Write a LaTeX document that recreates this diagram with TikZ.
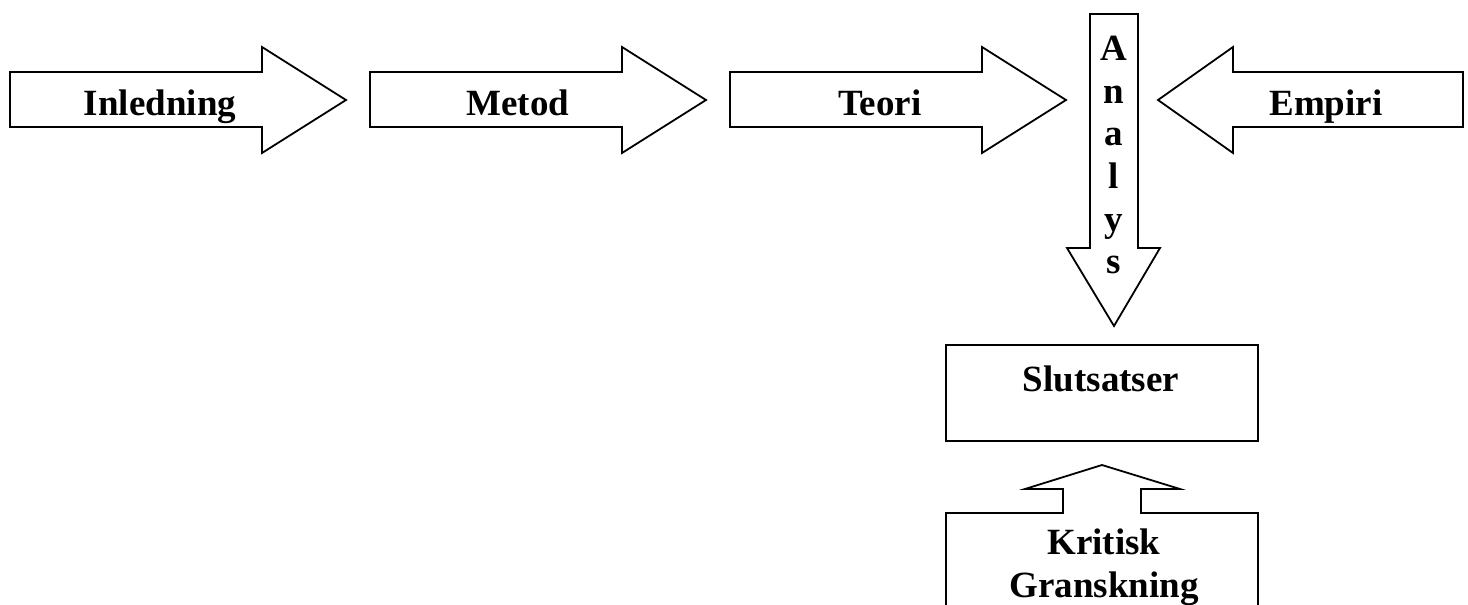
\documentclass[tikz,border=0pt]{standalone}
\usepackage{fontspec}
\setmainfont{Liberation Serif}
\tikzset{
  shapeline/.style={draw=black, line width=1.8pt, fill=white, line join=miter},
  lbl/.style={inner sep=0pt, font=\fontsize{37}{42.6}\selectfont\bfseries, align=center},
}
\begin{document}
\begin{tikzpicture}[x=1pt, y=-1pt]
  \useasboundingbox (0,0) rectangle (1468,605);
  \clip (0,0) rectangle (1468,605);

  % right-pointing block arrows along the top row
  \draw[shapeline] (10,72) -- (262,72) -- (262,47) -- (346,100) -- (262,153) -- (262,127) -- (10,127) -- cycle;
  \draw[shapeline] (370,72) -- (622,72) -- (622,47) -- (706,100) -- (622,153) -- (622,127) -- (370,127) -- cycle;
  \draw[shapeline] (730,72) -- (982,72) -- (982,47) -- (1066,100) -- (982,153) -- (982,127) -- (730,127) -- cycle;

  % left-pointing block arrow
  \draw[shapeline] (1463,72) -- (1233,72) -- (1233,47) -- (1158,100) -- (1233,153) -- (1233,127) -- (1463,127) -- cycle;

  % downward block arrow
  \draw[shapeline] (1090,14) -- (1138,14) -- (1138,248) -- (1160,248) -- (1114,326) -- (1067,248) -- (1090,248) -- cycle;

  % conclusions box
  \draw[shapeline] (946,345) rectangle (1258,441);

  % box with upward arrow on top
  \draw[shapeline] (946,700) -- (946,513) -- (1063,513) -- (1063,489) -- (1025,489) -- (1102,465) -- (1180,489) -- (1141,489) -- (1141,513) -- (1258,513) -- (1258,700) -- cycle;

  % labels
  \node[lbl, anchor=base] (inledning) at (160,115) {Inledning};
  \node[lbl, anchor=base] (metod) at (518,115) {Metod};
  \node[lbl, anchor=base] (teori) at (880,115) {Teori};
  \node[lbl, anchor=base] (empiri) at (1326,115) {Empiri};
  \node[lbl, anchor=north] (analys) at (1114,36) {A\\n\\a\\l\\y\\s};
  \node[lbl, anchor=base] (slutsatser) at (1101,391) {Slutsatser};
  \node[lbl, anchor=north] (kritisk) at (1104,529) {Kritisk\\Granskning};
\end{tikzpicture}
\end{document}
